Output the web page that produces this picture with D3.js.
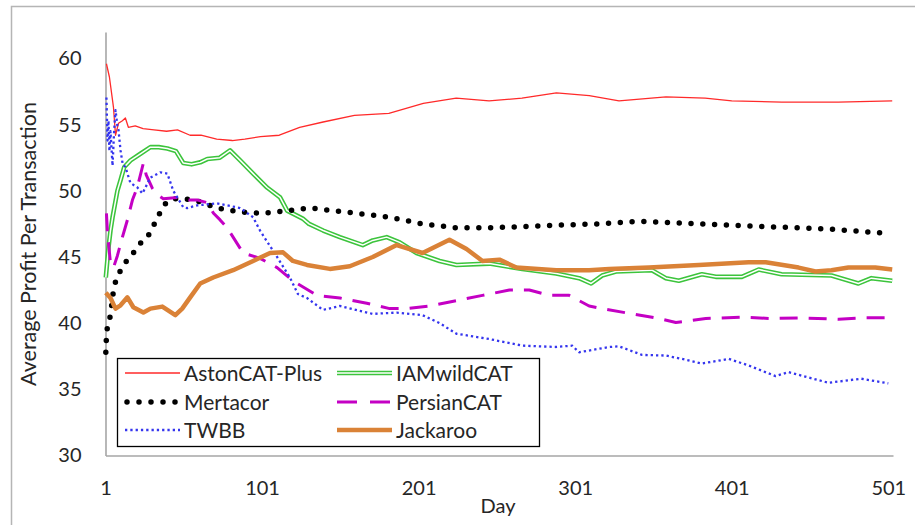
<!DOCTYPE html>
<html><head><meta charset="utf-8">
<script src="https://cdn.jsdelivr.net/npm/d3@7"></script>
<style>
body{margin:0;background:#fff;}
svg{display:block;}
text{font-family:Lato,"Open Sans",sans-serif;fill:#262626;}
</style>
</head><body>
<svg id="c" width="915" height="525"></svg>
<script>
const xTicks=[1,101,201,301,401,501];
const yTicks=[30,35,40,45,50,55,60];
const seriesNames=["AstonCAT-Plus","IAMwildCAT","Mertacor","PersianCAT","TWBB","Jackaroo"];

const astonCAT=[[1.6,59.6],[3.5,58.6],[6.1,56.3],[7.4,54.2],[9.3,55.1],[11.8,55.3],[13.7,55.5],[15.6,54.8],[20,54.9],[25,54.7],[32,54.6],[40,54.5],[47,54.6],[55,54.2],[62,54.2],[72,53.9],[82,53.8],[90,53.9],[100,54.1],[112,54.2],[125,54.8],[140,55.2],[160,55.7],[182,55.85],[204,56.6],[225,57.0],[246,56.8],[267,57.0],[289,57.4],[310,57.2],[329,56.8],[359,57.1],[384,57.0],[401,56.8],[433,56.7],[469,56.7],[503.5,56.8]];

const iamWildCAT=[[1.2,43.45],[2.9,45.7],[4.2,47.0],[5.5,48.0],[8.6,50.0],[10.6,50.8],[13,51.8],[17,52.3],[23.3,52.8],[29.7,53.3],[35,53.3],[40.5,53.2],[46,53.0],[50.7,52.1],[56,52.0],[61.5,52.15],[66,52.4],[74,52.5],[80.6,53.05],[87,52.3],[95.3,51.3],[104.2,50.25],[112.5,49.5],[117,48.5],[127,47.9],[131,47.5],[140,47.0],[150.7,46.5],[165.3,45.9],[171.7,46.25],[180.6,46.5],[188.9,46.1],[199.7,45.3],[214.4,44.7],[225.2,44.4],[246.2,44.5],[267.2,44.1],[288.9,43.75],[303.5,43.4],[311.2,43.0],[318.2,43.6],[327.1,43.9],[350,44.0],[358.9,43.4],[367.2,43.2],[381.9,43.7],[390.8,43.5],[407.4,43.5],[418.2,44.05],[432.8,43.7],[464.7,43.6],[481.9,43.0],[490.2,43.4],[503.5,43.2]];

const mertacor=[[1.2,37.8],[1.6,39.0],[2.2,39.7],[4.2,40.6],[6.1,42.5],[8,43.4],[11.2,44.1],[15,44.8],[18.2,45.2],[22,45.9],[27.8,46.5],[30.9,47.2],[34.8,48.1],[37.9,48.9],[43.7,49.4],[50.7,49.4],[58.3,49.3],[72.3,48.7],[87,48.4],[101.6,48.3],[116.9,48.5],[131.6,48.7],[161.5,48.3],[182.5,48.0],[203.5,47.5],[225.2,47.2],[246.2,47.2],[288.9,47.4],[316.3,47.5],[341.8,47.7],[380,47.5],[401,47.4],[432.8,47.25],[464.7,47.1],[499,46.8]];

const persianCAT=[[1.6,48.3],[2.3,46.8],[4.2,44.5],[6.1,44.2],[8.6,45.1],[11.8,46.5],[15,47.8],[18.2,49.3],[21.4,50.3],[25.2,52.1],[27,51.2],[30.9,50.2],[34.8,49.65],[37.9,49.4],[46.9,49.5],[55,49.3],[60,49.3],[66,49.1],[70,48.3],[74.2,47.8],[78.7,47.2],[82.5,46.5],[88.9,45.3],[99.7,44.9],[110.6,44.2],[120.7,43.2],[136,42.1],[150.7,41.9],[167.9,41.5],[182.5,41.1],[193.4,41.1],[208,41.3],[225.2,41.7],[241.8,42.1],[259,42.5],[271.7,42.5],[284.4,42.1],[297.2,42.1],[309.9,41.3],[318.2,41.1],[337.3,40.7],[354.5,40.35],[365.3,40.05],[384.4,40.35],[407.4,40.45],[426.5,40.35],[443.7,40.4],[469.2,40.3],[486.3,40.4],[503.5,40.4]];

const twbb=[[1.6,57.05],[2.3,53.8],[2.9,55.3],[3.5,53.0],[4.2,54.5],[5.5,51.9],[6.5,54.5],[7.4,56.1],[8.6,54.9],[9.3,54.6],[10.6,53.05],[12,52.0],[13.7,51.8],[16.9,50.6],[21.4,50.25],[24.6,49.8],[29.7,51.0],[36,51.4],[40.5,51.3],[44.3,50.0],[50.7,48.75],[53.2,48.7],[59.6,48.9],[72.3,49.05],[87,48.7],[95.3,48.0],[99.7,47.0],[104,46.2],[110.6,45.0],[118.8,43.45],[123.9,42.2],[129.7,41.9],[139.9,41.0],[150.7,41.3],[171.7,40.7],[187,40.8],[203.5,40.6],[214.4,40.0],[225.2,39.2],[246.2,38.8],[267.2,38.3],[288.9,38.2],[299.1,38.3],[303.5,37.8],[322.7,38.2],[329,38.25],[343.7,37.6],[358.9,37.55],[369.2,37.3],[381.9,36.95],[399.1,37.3],[411.8,36.8],[429,36.0],[437.3,36.3],[454.5,35.75],[462.8,35.5],[483.8,35.8],[501,35.45]];

const jackaroo=[[1.2,42.3],[4.2,41.9],[7.4,41.1],[10.6,41.35],[15,41.95],[18.8,41.2],[25.2,40.8],[29.7,41.1],[37.3,41.25],[45.6,40.6],[50,41.1],[55.1,41.95],[61.5,43.0],[69.8,43.45],[82.5,44.0],[95.3,44.7],[106.1,45.3],[114.4,45.35],[120.7,44.7],[129.7,44.4],[144.3,44.1],[157,44.3],[171.7,45.0],[187,45.9],[203.5,45.3],[220.7,46.3],[231.6,45.6],[241.8,44.7],[252.6,44.8],[263.4,44.2],[288.9,44.0],[309.9,44.0],[322.7,44.1],[348.1,44.2],[380,44.4],[411.8,44.6],[422.7,44.6],[443.7,44.2],[454.5,43.9],[464.7,44.0],[475.5,44.2],[492.7,44.2],[503.5,44.05]];

const svg=d3.select("#c");
const x=d3.scaleLinear().domain([1,504]).range([105.5,893]);
const y=d3.scaleLinear().domain([30,62]).range([455.5,32]);

// outer chart border
svg.append("rect").attr("x",11.5).attr("y",6.5).attr("width",940).attr("height",560)
  .attr("fill","none").attr("stroke","#b5b5b5").attr("stroke-width",1.5);

const styles=[
  {name:seriesNames[0],data:astonCAT,layers:[{stroke:"#ff2a2a",w:1.3}]},
  {name:seriesNames[1],data:iamWildCAT,layers:[{stroke:"#3cc43c",w:4.6},{stroke:"#ffffff",w:1.5}]},
  {name:seriesNames[2],data:mertacor,layers:[{stroke:"#000",w:5.5,dash:"0 11.8",cap:"round"}]},
  {name:seriesNames[3],data:persianCAT,layers:[{stroke:"#c400c4",w:3,dash:"18 11"}]},
  {name:seriesNames[4],data:twbb,layers:[{stroke:"#3535ee",w:2.3,dash:"2.3 3"}]},
  {name:seriesNames[5],data:jackaroo,layers:[{stroke:"#da8237",w:4.5}]}
];

const line=d3.line().x(d=>x(d[0])).y(d=>y(d[1]));

// axes
const gy=svg.append("g").attr("transform","translate(105.5,0)")
  .call(d3.axisLeft(y).tickValues(yTicks).tickSize(0).tickPadding(24));
const gx=svg.append("g").attr("transform","translate(0,455.5)")
  .call(d3.axisBottom(x).tickValues(xTicks).tickSize(0).tickPadding(25));
[gx,gy].forEach(g=>{
  g.select(".domain").attr("stroke","#a6a6a6").attr("stroke-width",1.6);
  g.selectAll("text").attr("font-size",20).attr("font-family","Lato,'Open Sans',sans-serif").attr("fill","#262626");
});

// lines
styles.forEach(s=>{
  s.layers.forEach(l=>{
    svg.append("path").datum(s.data).attr("d",line).attr("fill","none")
      .attr("stroke",l.stroke).attr("stroke-width",l.w)
      .attr("stroke-dasharray",l.dash||null)
      .attr("stroke-linecap",l.cap||"butt").attr("stroke-linejoin","round");
  });
});

// axis titles
svg.append("text").attr("x",498).attr("y",513).attr("text-anchor","middle")
  .attr("font-size",20).text("Day");
svg.append("text").attr("transform","translate(36,244) rotate(-90)").attr("text-anchor","middle")
  .attr("font-size",21.5).text("Average Profit Per Transaction");

// legend
const lg=svg.append("g");
lg.append("rect").attr("x",117.5).attr("y",358.5).attr("width",422).attr("height",88)
  .attr("fill","#fff").attr("stroke","#000").attr("stroke-width",1.3);
const colX=[125,337], rowY=[373,402,430];
styles.forEach((s,i)=>{
  const cx=colX[i%2], cy=rowY[Math.floor(i/2)];
  s.layers.forEach(l=>{
    lg.append("line").attr("x1",cx+(l.cap?2:0)).attr("x2",cx+55).attr("y1",cy).attr("y2",cy)
      .attr("stroke",l.stroke).attr("stroke-width",l.w)
      .attr("stroke-dasharray",l.dash?(l.cap?"0 12":(i===3?"20 13":l.dash)):null)
      .attr("stroke-linecap",l.cap||"butt");
  });
  lg.append("text").attr("x",cx+59).attr("y",cy).attr("dy","0.36em").attr("font-size",21).text(s.name);
});
</script>
</body></html>
